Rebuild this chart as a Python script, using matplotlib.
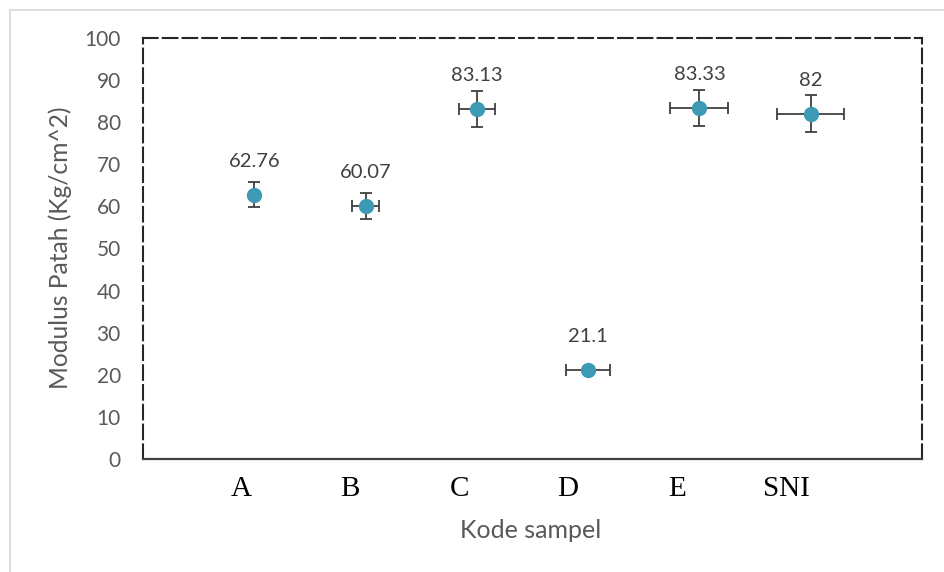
import matplotlib
matplotlib.use("Agg")
import matplotlib.pyplot as plt
from matplotlib.lines import Line2D
import numpy as np

# --- data ---
samples = ["A", "B", "C", "D", "E", "SNI"]
x_pos = np.array([1, 2, 3, 4, 5, 6])
modulus = np.array([62.76, 60.07, 83.13, 21.1, 83.33, 82.0])
y_err = np.array([3.0, 3.0, 4.2, 0.0, 4.3, 4.4])
x_err = np.array([0.0, 0.12, 0.16, 0.20, 0.26, 0.30])
value_labels = ["62.76", "60.07", "83.13", "21.1", "83.33", "82"]

W, H = 945, 572
fig = plt.figure(figsize=(W / 100, H / 100), dpi=100)
ax = fig.add_axes([143 / W, 1 - 459 / H, (922 - 143) / W, (459 - 38) / H])

sans = ["Lato", "DejaVu Sans"]
teal = "#3C9AB4"

ax.errorbar(x_pos, modulus, yerr=y_err, xerr=x_err, fmt="none",
            ecolor="#404040", elinewidth=1.3, capsize=4.3, capthick=1.3, zorder=2)
ax.plot(x_pos, modulus, "o", color=teal, markersize=10, zorder=3)

for xi, yi, lab in zip(x_pos, modulus, value_labels):
    ax.annotate(lab, (xi, yi), xytext=(0, 24), textcoords="offset points",
                ha="center", va="center", fontsize=14.5, color="#404040",
                family=sans)

ax.set_xlim(0, 7)
ax.set_ylim(0, 100)
ax.set_yticks(np.arange(0, 101, 10))
ax.set_xticks(x_pos * 0.98 - 0.10)
ax.set_xticklabels(samples, family=["Liberation Serif"], fontsize=21, color="black")
for t in ax.get_yticklabels():
    t.set_family(sans)
    t.set_fontsize(15)
    t.set_color("#595959")
ax.tick_params(axis="y", length=0, pad=16)
ax.tick_params(axis="x", length=0, pad=12)

# spines: dashed frame, solid bottom
for side in ["top", "left", "right"]:
    ax.spines[side].set_linestyle((0, (7, 2.5)))
    ax.spines[side].set_linewidth(1.5)
    ax.spines[side].set_color("#262626")
ax.spines["bottom"].set_linewidth(1.6)
ax.spines["bottom"].set_color("#404040")

fig.text(60 / W, 1 - 248 / H, "Modulus Patah (Kg/cm^2)", rotation=90,
         ha="center", va="center", fontsize=17.7, color="#595959", family=sans)
fig.text(531 / W, 1 - 531 / H, "Kode sampel", ha="center", va="center",
         fontsize=18, color="#595959", family=sans)

# light outer frame
fig.add_artist(Line2D([10 / W, 1], [1 - 10 / H, 1 - 10 / H], color="#D9D9D9", lw=1.2))
fig.add_artist(Line2D([10 / W, 10 / W], [0, 1 - 10 / H], color="#D9D9D9", lw=1.2))

fig.savefig("out.png", dpi=100)
